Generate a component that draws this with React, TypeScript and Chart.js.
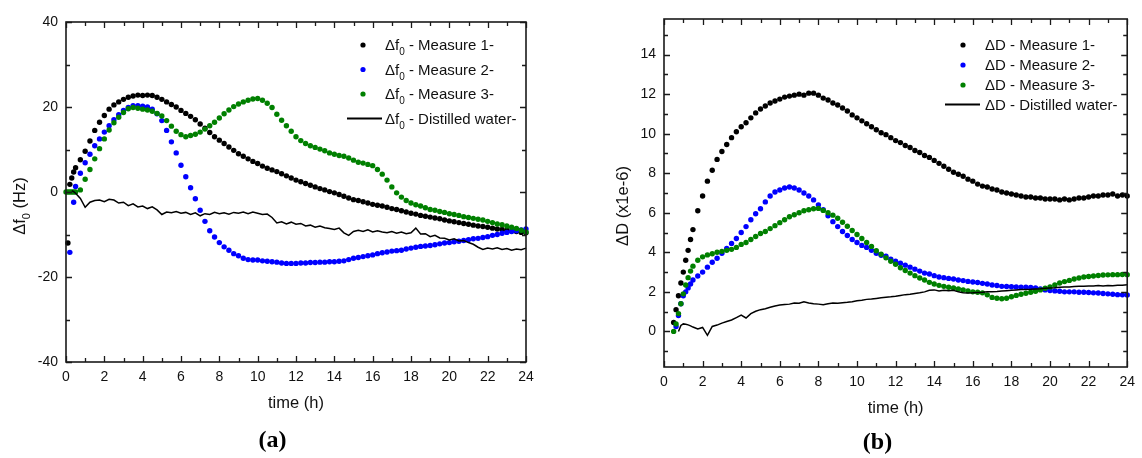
import React, { useEffect, useRef } from "react";
import { Chart, registerables } from "chart.js";

Chart.register(...registerables);

// ---------------- DATA: panel (a) Δf0 (Hz) ----------------
const TIME_A = [
  0, 0.1, 0.2, 0.3, 0.4, 0.5,
  0.75, 1, 1.25, 1.5, 1.75, 2, 2.25, 2.5, 2.75, 3, 3.25, 3.5, 3.75, 4,
  4.25, 4.5, 4.75, 5, 5.25, 5.5, 5.75, 6, 6.25, 6.5, 6.75, 7, 7.25, 7.5, 7.75, 8,
  8.25, 8.5, 8.75, 9, 9.25, 9.5, 9.75, 10, 10.25, 10.5, 10.75, 11, 11.25, 11.5, 11.75, 12,
  12.25, 12.5, 12.75, 13, 13.25, 13.5, 13.75, 14, 14.25, 14.5, 14.75, 15, 15.25, 15.5, 15.75, 16,
  16.25, 16.5, 16.75, 17, 17.25, 17.5, 17.75, 18, 18.25, 18.5, 18.75, 19, 19.25, 19.5, 19.75, 20,
  20.25, 20.5, 20.75, 21, 21.25, 21.5, 21.75, 22, 22.25, 22.5, 22.75, 23, 23.25, 23.5, 23.75, 24,
];

const F_MEASURE1 = [
  null, -12, 1.8, 3.3, 4.7, 5.7,
  7.6, 9.6, 12.0, 14.5, 16.4, 18.0, 19.5, 20.5, 21.2, 21.8, 22.3, 22.6, 22.8, 22.7,
  22.8, 22.7, 22.3, 21.8, 21.2, 20.6, 20.0, 19.2, 18.5, 17.8, 17.0, 16.0, 15.0, 14.0, 13.0, 12.2,
  11.4, 10.6, 9.8, 9.0, 8.4, 7.8, 7.2, 6.7, 6.1, 5.6, 5.2, 4.8, 4.3, 3.8, 3.3, 2.8,
  2.4, 2.0, 1.6, 1.2, 0.8, 0.5, 0.1, -0.2, -0.6, -1.0, -1.4, -1.8, -2.0, -2.3, -2.6, -2.9,
  -3.1, -3.3, -3.6, -3.9, -4.1, -4.4, -4.7, -5.0, -5.2, -5.5, -5.7, -5.9, -6.1, -6.3, -6.6, -6.8,
  -7.0, -7.2, -7.4, -7.6, -7.8, -8.0, -8.1, -8.3, -8.5, -8.7, -8.8, -9.0, -9.2, -9.3, -9.5, -9.6,
];

const F_MEASURE2 = [
  null, null, -14.2, null, -2.4, 1.3,
  4.4, 6.9, 8.9, 10.9, 12.5, 14.1, 15.6, 17.0, 18.2, 19.2, 19.9, 20.3, 20.3, 20.2,
  20.0, 19.5, 18.4, 16.8, 14.5, 11.8, 9.2, 6.3, 3.6, 1.0, -1.6, -4.3, -6.9, -9.1, -10.6, -11.9,
  -12.9, -13.7, -14.5, -15.0, -15.6, -15.9, -16.0, -16.0, -16.2, -16.3, -16.4, -16.5, -16.7, -16.8, -16.8, -16.8,
  -16.7, -16.7, -16.6, -16.6, -16.5, -16.5, -16.4, -16.4, -16.3, -16.2, -15.9, -15.6, -15.4, -15.2, -15.0, -14.8,
  -14.5, -14.3, -14.1, -13.9, -13.8, -13.7, -13.4, -13.2, -13.0, -12.8, -12.7, -12.6, -12.4, -12.2, -12.0, -11.9,
  -11.7, -11.6, -11.4, -11.2, -11.0, -10.9, -10.7, -10.5, -10.2, -10.0, -9.7, -9.5, -9.3, -9.1, -8.9, -8.7,
];

const F_MEASURE3 = [
  0, 0, 0, 0, 0, 0,
  0.5, 3.0, 5.3, 7.8, 10.2, 12.5, 14.6, 16.3, 17.6, 18.7, 19.6, 19.9, 19.7, 19.5,
  19.3, 19.0, 18.5, 17.9, 16.8, 15.5, 14.3, 13.5, 13.0, 13.3, 13.6, 14.1, 14.8, 15.6, 16.4, 17.4,
  18.4, 19.3, 20.1, 20.7, 21.2, 21.6, 21.9, 22.0, 21.6, 20.9, 19.9, 18.3, 16.9, 15.6, 14.3, 13.0,
  12.1, 11.4, 10.9, 10.5, 10.1, 9.7, 9.2, 8.9, 8.6, 8.4, 8.0, 7.5, 7.0, 6.8, 6.5, 6.2,
  5.3, 4.2, 2.8, 1.2, -0.2, -1.2, -2.0, -2.6, -3.0, -3.3, -3.7, -4.1, -4.3, -4.6, -4.8, -5.1,
  -5.3, -5.5, -5.8, -6.0, -6.2, -6.4, -6.6, -6.9, -7.2, -7.5, -7.7, -8.0, -8.3, -8.6, -9.0, -9.4,
];

const F_WATER = [
  null, null, null, 0.3, 0.1, -0.3,
  -1.5, -3.6, -2.4, -2.0, -1.9, -2.3, -1.7, -1.9, -2.6, -2.4, -3.2, -2.8, -3.5, -3.3,
  -3.9, -3.5, -4.2, -5.3, -4.7, -4.9, -4.6, -5.0, -4.8, -5.3, -4.9, -5.6, -5.1, -5.3, -4.8, -5.1,
  -4.9, -5.2, -4.8, -5.0, -4.7, -5.1, -4.7, -5.0, -5.3, -5.2, -6.0, -7.3, -7.0, -7.5, -7.1, -7.6,
  -7.4, -8.0, -7.8, -8.3, -8.0, -8.4, -8.6, -8.8, -8.5, -9.6, -10.2, -9.3, -9.0, -9.3, -8.9, -9.4,
  -9.1, -9.4, -9.6, -9.3, -9.7, -9.4, -9.8, -9.6, -8.5, -9.9, -9.8, -10.5, -10.2, -10.8, -10.9, -11.3,
  -11.0, -11.5, -11.4, -11.9, -12.3, -13.0, -13.5, -13.2, -13.4, -13.1, -13.5, -13.3, -13.7, -13.4, -13.6, -13.2,
];

// ---------------- DATA: panel (b) ΔD (x1e-6) ----------------
const TIME_B = [
  0.5, 0.625, 0.75, 0.875, 1, 1.125, 1.25, 1.375, 1.5,
  1.75, 2, 2.25, 2.5, 2.75, 3, 3.25, 3.5, 3.75, 4,
  4.25, 4.5, 4.75, 5, 5.25, 5.5, 5.75, 6, 6.25, 6.5, 6.75, 7, 7.25, 7.5, 7.75, 8,
  8.25, 8.5, 8.75, 9, 9.25, 9.5, 9.75, 10, 10.25, 10.5, 10.75, 11, 11.25, 11.5, 11.75, 12,
  12.25, 12.5, 12.75, 13, 13.25, 13.5, 13.75, 14, 14.25, 14.5, 14.75, 15, 15.25, 15.5, 15.75, 16,
  16.25, 16.5, 16.75, 17, 17.25, 17.5, 17.75, 18, 18.25, 18.5, 18.75, 19, 19.25, 19.5, 19.75, 20,
  20.25, 20.5, 20.75, 21, 21.25, 21.5, 21.75, 22, 22.25, 22.5, 22.75, 23, 23.25, 23.5, 23.75, 24,
];

const D_MEASURE1 = [
  0.45, 1.1, 1.8, 2.45, 3.0, 3.6, 4.1, 4.65, 5.15,
  6.1, 6.85, 7.6, 8.15, 8.7, 9.1, 9.45, 9.8, 10.1, 10.35,
  10.55, 10.8, 11.05, 11.25, 11.4, 11.55, 11.65, 11.75, 11.85, 11.9, 11.95, 12.0, 11.95, 12.05, 12.05, 11.95,
  11.8, 11.7, 11.55, 11.45, 11.3, 11.15, 10.95, 10.8, 10.65, 10.5, 10.35, 10.2, 10.05, 9.95, 9.8, 9.65,
  9.55, 9.4, 9.3, 9.15, 9.05, 8.9, 8.8, 8.65, 8.5, 8.35, 8.2, 8.05, 7.95, 7.85, 7.7, 7.6,
  7.45, 7.35, 7.3, 7.2, 7.15, 7.05, 7.0, 6.95, 6.9, 6.85, 6.8, 6.8, 6.75, 6.75, 6.7, 6.7,
  6.7, 6.65, 6.7, 6.65, 6.7, 6.75, 6.75, 6.8, 6.85, 6.85, 6.9, 6.9, 6.95, 6.85, 6.9, 6.85,
];

const D_MEASURE2 = [
  null, 0.25, 0.8, 1.4, 1.8, 2.0, 2.2, 2.4, 2.6,
  2.8, 3.0, 3.25, 3.5, 3.7, 3.95, 4.2, 4.45, 4.7, 5.0,
  5.3, 5.65, 5.95, 6.2, 6.55, 6.85, 7.05, 7.15, 7.25, 7.3, 7.25, 7.15, 7.0, 6.85, 6.65, 6.4,
  6.15, 5.85, 5.55, 5.3, 5.05, 4.85, 4.65, 4.5, 4.35, 4.25, 4.1, 3.95, 3.85, 3.8, 3.65, 3.55,
  3.45, 3.35, 3.25, 3.15, 3.05, 2.95, 2.9, 2.82, 2.75, 2.72, 2.68, 2.65, 2.6, 2.57, 2.53, 2.5,
  2.47, 2.43, 2.4, 2.35, 2.32, 2.28, 2.27, 2.26, 2.25, 2.24, 2.23, 2.22, 2.2, 2.15, 2.1, 2.07,
  2.05, 2.03, 2.0, 2.0, 2.0, 1.98, 1.98, 1.97, 1.95, 1.94, 1.92, 1.9, 1.88, 1.86, 1.85, 1.84,
];

const D_MEASURE3 = [
  0.0, 0.38, 0.9, 1.4, 1.9, 2.35, 2.72, 3.05, 3.3,
  3.6, 3.77, 3.87, 3.93, 4.0, 4.05, 4.1, 4.15, 4.25, 4.4,
  4.5, 4.65, 4.8, 4.95, 5.05, 5.2, 5.35, 5.5, 5.65, 5.8, 5.9, 6.0, 6.1, 6.15, 6.2, 6.22,
  6.12, 6.0, 5.88, 5.72, 5.52, 5.32, 5.1, 4.9, 4.7, 4.5, 4.3, 4.08, 3.9, 3.72, 3.55, 3.4,
  3.22, 3.08, 2.95, 2.82, 2.7, 2.6, 2.48, 2.4, 2.33, 2.28, 2.23, 2.2, 2.15, 2.1, 2.05, 2.0,
  1.98, 1.95, 1.85, 1.72, 1.68, 1.65, 1.68, 1.75, 1.82, 1.88, 1.93, 1.98, 2.03, 2.1, 2.18, 2.25,
  2.35, 2.45, 2.52, 2.58, 2.65, 2.7, 2.75, 2.78, 2.8, 2.83, 2.85, 2.86, 2.87, 2.87, 2.88, 2.87,
];

const D_WATER = [
  null, null, 0.0, 0.3, 0.38, 0.36, 0.33, 0.28, 0.22,
  0.12, 0.2, -0.2, 0.25, 0.32, 0.42, 0.5, 0.58, 0.7, 0.82,
  0.68, 0.9, 1.02, 1.1, 1.15, 1.22, 1.28, 1.33, 1.36, 1.38, 1.44, 1.42, 1.5, 1.44, 1.4, 1.38,
  1.35, 1.4, 1.44, 1.42, 1.45, 1.47, 1.5, 1.55, 1.58, 1.62, 1.64, 1.67, 1.7, 1.73, 1.75, 1.78,
  1.82, 1.86, 1.88, 1.92, 1.95, 2.0, 2.08, 2.1, 2.05, 2.08, 2.06, 2.08, 2.0, 1.96, 1.94, 1.95,
  1.97, 1.98, 2.0, 2.01, 2.02, 2.04, 2.06, 2.08, 2.1, 2.12, 2.12, 2.13, 2.15, 2.16, 2.18, 2.2,
  2.21, 2.23, 2.25, 2.25, 2.27, 2.28, 2.28, 2.3, 2.3, 2.32, 2.3, 2.32, 2.31, 2.33, 2.34, 2.36,
];

// ---------------- ticks & labels ----------------
const X_TICKS = [0, 2, 4, 6, 8, 10, 12, 14, 16, 18, 20, 22, 24];
const Y_TICKS_A = [-40, -20, 0, 20, 40];
const Y_TICKS_B = [0, 2, 4, 6, 8, 10, 12, 14];
const SERIES_NAMES = ["Measure 1-", "Measure 2-", "Measure 3-", "Distilled water-"];
const SERIES_COLORS = ["#000000", "#0000ff", "#008000", "#000000"];
const X_TITLE = "time (h)";

const FONT = '"Liberation Sans", Arial, Helvetica, sans-serif';
const TEXT_COLOR = "#111111";
const AXIS_COLOR = "#1a1a1a";

type Part = { text: string; sub?: boolean };

type PanelSpec = {
  canvasLeft: number;
  yAxisWidth: number;
  xAxisHeight: number;
  padTop: number;
  padRight: number;
  yMin: number;
  yMax: number;
  yMajor: number;
  yMinor: number;
  yTicks: number[];
  times: number[];
  series: (number | null)[][];
  yTitle: Part[];
  yTitleBaselineX: number;
  yTitleCenterY: number;
  legendPrefix: Part[];
  legendMarkerX: number;
  legendLineX0: number;
  legendLineX1: number;
  legendTextX: number;
  legendRows: number[];
  panelLabel: string;
  panelLabelX: number;
  panelLabelY: number;
};

const PANEL_A: PanelSpec = {
  canvasLeft: 0,
  yAxisWidth: 66,
  xAxisHeight: 96,
  padTop: 22,
  padRight: 45,
  yMin: -40,
  yMax: 40,
  yMajor: 20,
  yMinor: 10,
  yTicks: Y_TICKS_A,
  times: TIME_A,
  series: [F_MEASURE1, F_MEASURE2, F_MEASURE3, F_WATER],
  yTitle: [{ text: "\u0394f" }, { text: "0", sub: true }, { text: " (Hz)" }],
  yTitleBaselineX: 25,
  yTitleCenterY: 206,
  legendPrefix: [{ text: "\u0394f" }, { text: "0", sub: true }],
  legendMarkerX: 363,
  legendLineX0: 347,
  legendLineX1: 382,
  legendTextX: 385,
  legendRows: [45, 69.5, 94, 118.5],
  panelLabel: "(a)",
  panelLabelX: 272.5,
  panelLabelY: 441,
};

const PANEL_B: PanelSpec = {
  canvasLeft: 571,
  yAxisWidth: 93,
  xAxisHeight: 91,
  padTop: 19,
  padRight: 9,
  yMin: -1.8,
  yMax: 15.8,
  yMajor: 2,
  yMinor: 1,
  yTicks: Y_TICKS_B,
  times: TIME_B,
  series: [D_MEASURE1, D_MEASURE2, D_MEASURE3, D_WATER],
  yTitle: [{ text: "\u0394D (x1e-6)" }],
  yTitleBaselineX: 57,
  yTitleCenterY: 206,
  legendPrefix: [{ text: "\u0394D" }],
  legendMarkerX: 392,
  legendLineX0: 374,
  legendLineX1: 409,
  legendTextX: 414,
  legendRows: [45, 65, 85, 104.5],
  panelLabel: "(b)",
  panelLabelX: 306.5,
  panelLabelY: 443,
};

function toPoints(times: number[], values: (number | null)[]) {
  return times.map((t, i) => ({ x: t, y: values[i] === undefined ? null : values[i] }));
}

function drawParts(ctx: CanvasRenderingContext2D, parts: Part[], x: number, baseline: number, size: number, subSize: number, measureOnly = false) {
  let cx = x;
  for (const p of parts) {
    ctx.font = `${p.sub ? subSize : size}px ${FONT}`;
    if (!measureOnly) ctx.fillText(p.text, cx, baseline + (p.sub ? 5 : 0));
    cx += ctx.measureText(p.text).width;
  }
  return cx - x;
}

function decorPlugin(spec: PanelSpec) {
  return {
    id: "decor",
    afterDraw(chart: any) {
      const ctx: CanvasRenderingContext2D = chart.ctx;
      const { left, right, top, bottom } = chart.chartArea;
      const xs = chart.scales.x;
      const ys = chart.scales.y;
      ctx.save();

      // inward ticks on all four sides
      ctx.strokeStyle = AXIS_COLOR;
      ctx.lineWidth = 1.3;
      ctx.beginPath();
      for (let v = 0; v <= 24 + 1e-9; v += 1) {
        const px = Math.round(xs.getPixelForValue(v)) + 0.5;
        const len = Math.abs(v % 2) < 1e-9 ? 6 : 4;
        ctx.moveTo(px, bottom);
        ctx.lineTo(px, bottom - len);
        ctx.moveTo(px, top);
        ctx.lineTo(px, top + len);
      }
      const yStart = Math.ceil(spec.yMin / spec.yMinor) * spec.yMinor;
      for (let v = yStart; v <= spec.yMax + 1e-9; v += spec.yMinor) {
        const py = Math.round(ys.getPixelForValue(v)) + 0.5;
        const r = v / spec.yMajor;
        const len = Math.abs(r - Math.round(r)) < 1e-9 ? 6 : 4;
        ctx.moveTo(left, py);
        ctx.lineTo(left + len, py);
        ctx.moveTo(right, py);
        ctx.lineTo(right - len, py);
      }
      ctx.stroke();

      // frame
      ctx.lineWidth = 1.6;
      ctx.strokeRect(left, top, right - left, bottom - top);

      // x title
      ctx.fillStyle = TEXT_COLOR;
      ctx.textAlign = "center";
      ctx.textBaseline = "middle";
      ctx.font = `16.5px ${FONT}`;
      ctx.fillText(X_TITLE, (left + right) / 2, bottom + 41);

      // y title (rotated)
      ctx.textAlign = "left";
      ctx.textBaseline = "alphabetic";
      const w = drawParts(ctx, spec.yTitle, 0, 0, 16.5, 11, true);
      ctx.save();
      ctx.translate(spec.yTitleBaselineX, spec.yTitleCenterY);
      ctx.rotate(-Math.PI / 2);
      drawParts(ctx, spec.yTitle, -w / 2, 0, 16.5, 11);
      ctx.restore();

      // legend
      spec.legendRows.forEach((ry, i) => {
        const color = SERIES_COLORS[i];
        if (i < 3) {
          ctx.fillStyle = color;
          ctx.beginPath();
          ctx.arc(spec.legendMarkerX, ry, 2.6, 0, Math.PI * 2);
          ctx.fill();
        } else {
          ctx.strokeStyle = color;
          ctx.lineWidth = 2;
          ctx.beginPath();
          ctx.moveTo(spec.legendLineX0, ry);
          ctx.lineTo(spec.legendLineX1, ry);
          ctx.stroke();
        }
        ctx.fillStyle = TEXT_COLOR;
        const parts: Part[] = [...spec.legendPrefix, { text: " - " + SERIES_NAMES[i] }];
        drawParts(ctx, parts, spec.legendTextX, ry + 5.3, 15, 10);
      });

      // panel label
      ctx.fillStyle = "#000";
      ctx.textAlign = "center";
      ctx.textBaseline = "middle";
      ctx.font = `bold 24px "Liberation Serif", "Times New Roman", serif`;
      ctx.fillText(spec.panelLabel, spec.panelLabelX, spec.panelLabelY);

      ctx.restore();
    },
  };
}

function Panel({ spec }: { spec: PanelSpec }) {
  const ref = useRef<HTMLCanvasElement | null>(null);

  useEffect(() => {
    if (!ref.current) return;
    const datasets: any[] = spec.series.map((vals, i) => {
      const isLine = i === 3;
      return {
        label: SERIES_NAMES[i],
        data: toPoints(spec.times, vals),
        showLine: isLine,
        borderColor: SERIES_COLORS[i],
        backgroundColor: SERIES_COLORS[i],
        borderWidth: isLine ? 1.5 : 0,
        pointRadius: isLine ? 0 : 2.7,
        pointBorderWidth: 0,
        pointHoverRadius: 0,
        tension: 0,
        spanGaps: false,
        order: 3 - i,
        clip: 3,
      };
    });

    const tickFont = { family: FONT, size: 14 };
    const chart = new Chart(ref.current, {
      type: "scatter",
      data: { datasets },
      options: {
        animation: false,
        responsive: false,
        devicePixelRatio: 1,
        events: [],
        layout: { padding: { left: 0, right: spec.padRight, top: spec.padTop, bottom: 0 } },
        plugins: { legend: { display: false }, tooltip: { enabled: false }, title: { display: false } },
        scales: {
          x: {
            type: "linear",
            min: 0,
            max: 24,
            grid: { display: false, drawTicks: false },
            border: { display: false },
            ticks: { padding: 7, font: tickFont, color: TEXT_COLOR, maxRotation: 0, autoSkip: false },
            afterBuildTicks: (s: any) => {
              s.ticks = X_TICKS.map((v) => ({ value: v }));
            },
            afterFit: (s: any) => {
              s.height = spec.xAxisHeight;
            },
          },
          y: {
            type: "linear",
            min: spec.yMin,
            max: spec.yMax,
            grid: { display: false, drawTicks: false },
            border: { display: false },
            ticks: { padding: 8, font: tickFont, color: TEXT_COLOR, autoSkip: false },
            afterBuildTicks: (s: any) => {
              s.ticks = spec.yTicks.map((v) => ({ value: v }));
            },
            afterFit: (s: any) => {
              s.width = spec.yAxisWidth;
            },
          },
        },
      } as any,
      plugins: [decorPlugin(spec)],
    });
    return () => chart.destroy();
  }, [spec]);

  return (
    <canvas
      ref={ref}
      width={571}
      height={458}
      style={{ position: "absolute", left: spec.canvasLeft, top: 0, width: 571, height: 458, display: "block" }}
    />
  );
}

export default function App() {
  return (
    <div
      style={{
        position: "absolute",
        left: 0,
        top: 0,
        width: 1142,
        height: 458,
        background: "#ffffff",
        overflow: "hidden",
      }}
    >
      <Panel spec={PANEL_A} />
      <Panel spec={PANEL_B} />
    </div>
  );
}
